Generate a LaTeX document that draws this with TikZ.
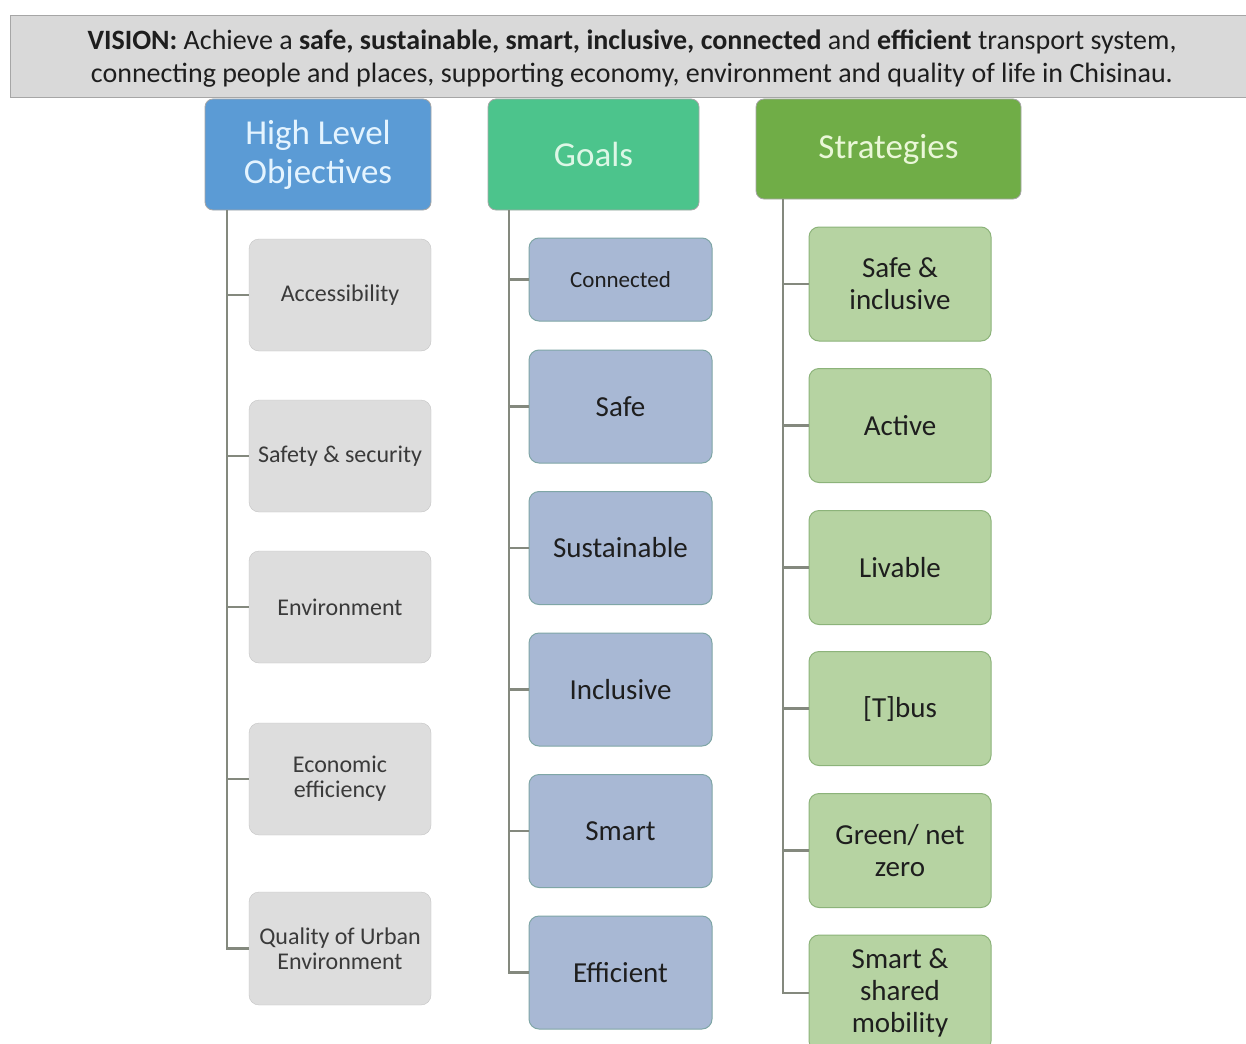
\documentclass[tikz,border=0pt]{standalone}
\usepackage{fontspec}
\setmainfont{Carlito}
\usetikzlibrary{calc}
\definecolor{visfill}{HTML}{D9D9D9}
\definecolor{visdraw}{HTML}{A6A6A6}
\definecolor{hloblue}{HTML}{5B9BD5}
\definecolor{goalgreen}{HTML}{4CC48C}
\definecolor{stratgreen}{HTML}{70AD47}
\definecolor{hlotext}{HTML}{E4F4FF}
\definecolor{goaltext}{HTML}{DDF7E6}
\definecolor{strattext}{HTML}{EAF7D8}
\definecolor{grayfill}{HTML}{DDDDDD}
\definecolor{graydraw}{HTML}{C4C4C4}
\definecolor{grayink}{HTML}{3A3A3A}
\definecolor{bluefill}{HTML}{A8B8D4}
\definecolor{bluedraw}{HTML}{7FA6A6}
\definecolor{greenfill}{HTML}{B6D3A2}
\definecolor{greendraw}{HTML}{8CB37A}
\definecolor{conncol}{HTML}{84897E}
\definecolor{ink}{HTML}{1E1E1E}
\tikzset{
  header/.style={draw=gray!70, line width=0.8pt, rounded corners=8pt, inner sep=0pt,
    align=center, font=\fontsize{35}{39}\selectfont},
  hlobox/.style={draw=graydraw, fill=grayfill, rounded corners=10pt, inner sep=0pt,
    minimum width=182pt, minimum height=112pt, align=center, text=grayink,
    font=\fontsize{24}{25}\selectfont},
  goalbox/.style={draw=bluedraw, fill=bluefill, rounded corners=10pt, inner sep=0pt,
    line width=1pt, minimum width=183pt, minimum height=113pt, align=center, text=ink,
    font=\fontsize{29}{32}\selectfont},
  stratbox/.style={draw=greendraw, fill=greenfill, rounded corners=10pt, inner sep=0pt,
    line width=1pt, minimum width=182pt, minimum height=114pt, align=center, text=ink,
    font=\fontsize{29}{32}\selectfont},
  conn/.style={draw=conncol, line width=2.2pt}
}
\begin{document}
\begin{tikzpicture}[x=1pt,y=-1pt]
\useasboundingbox (0,0) rectangle (1246,1043);
\clip (0,0) rectangle (1246,1043);
\fill[white] (0,0) rectangle (1246,1043);
% vision banner
\node[draw=visdraw, fill=visfill, line width=0.8pt, minimum width=1238pt, minimum height=82pt,
  inner sep=0pt] (vision) at (629,56) {};
\node[inner sep=0pt, align=center, text=ink, font=\fontsize{28}{33}\selectfont] (visiontext) at (632,59)
  {\textbf{VISION:} Achieve a \textbf{safe, sustainable, smart, inclusive, connected} and \textbf{efficient} transport system,\\
   connecting people and places, supporting economy, environment and quality of life in Chisinau.};
% headers
\node[header, fill=hloblue, text=hlotext, minimum width=226pt, minimum height=111pt] (hlo) at (318,154.5)
  {High Level\\Objectives};
\node[header, fill=goalgreen, text=goaltext, minimum width=211pt, minimum height=111pt] (goals) at (593.5,154.5)
  {Goals};
\node[header, fill=stratgreen, text=strattext, minimum width=265pt, minimum height=100pt] (strat) at (888.5,149)
  {Strategies};
% high level objectives
\node[hlobox] (acc) at (340,295) {Accessibility};
\node[hlobox] (saf) at (340,456) {Safety \& security};
\node[hlobox] (env) at (340,607) {Environment};
\node[hlobox] (eco) at (340,779) {Economic\\efficiency};
\node[hlobox, minimum height=113pt] (qua) at (340,948.5) {Quality of Urban\\Environment};
% goals
\node[goalbox, minimum height=83pt, font=\fontsize{23}{26}\selectfont] (gcon) at (620.5,279.5) {Connected};
\node[goalbox] (gsaf) at (620.5,406.5) {Safe};
\node[goalbox] (gsus) at (620.5,548) {Sustainable};
\node[goalbox] (ginc) at (620.5,689.5) {Inclusive};
\node[goalbox] (gsma) at (620.5,831) {Smart};
\node[goalbox] (geff) at (620.5,972.5) {Efficient};
% strategies
\node[stratbox] (ssaf) at (900,284) {Safe \&\\inclusive};
\node[stratbox] (sact) at (900,425.5) {Active};
\node[stratbox] (sliv) at (900,567.5) {Livable};
\node[stratbox] (stbu) at (900,708.5) {[T]bus};
\node[stratbox] (sgre) at (900,850.5) {Green/ net\\zero};
\node[stratbox, minimum height=116pt] (ssma) at (900,993) {Smart \&\\shared\\mobility};
% connectors
\coordinate (th) at ($(hlo.south west)+(22,0)$);
\coordinate (tg) at ($(goals.south west)+(21,0)$);
\coordinate (ts) at ($(strat.south west)+(27,0)$);
\foreach \c in {acc,saf,env,eco,qua} \draw[conn] (th) |- (\c.west);
\foreach \c in {gcon,gsaf,gsus,ginc,gsma,geff} \draw[conn] (tg) |- (\c.west);
\foreach \c in {ssaf,sact,sliv,stbu,sgre,ssma} \draw[conn] (ts) |- (\c.west);
\end{tikzpicture}
\end{document}
